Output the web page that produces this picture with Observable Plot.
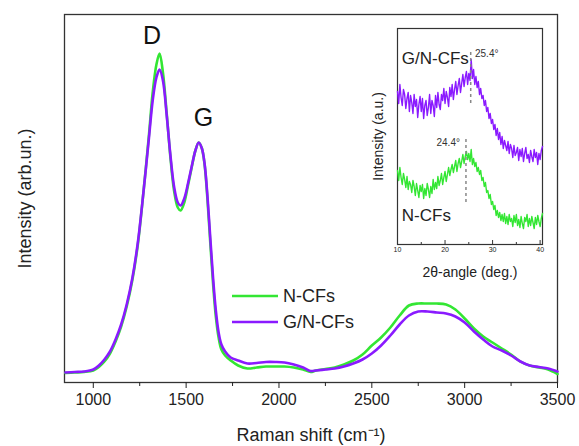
<!DOCTYPE html>
<html><head><meta charset="utf-8">
<script src="https://cdn.jsdelivr.net/npm/d3@7"></script>
<script src="https://cdn.jsdelivr.net/npm/@observablehq/plot@0.6"></script>
<style>
body{margin:0;background:#fff;font-family:"Liberation Sans",Arial,sans-serif;}
#wrap{position:relative;width:579px;height:446px;overflow:hidden;}
#wrap svg{position:absolute;overflow:visible;}
</style></head><body><div id="wrap"></div>
<script>
// ---- Main Raman spectra ----
const ramanShift = [850,900,950,1000,1030,1060,1090,1120,1150,1180,1210,1240,1270,1300,1320,1340,1357,1375,1395,1415,1435,1455,1470,1490,1510,1530,1550,1568,1585,1600,1615,1630,1645,1660,1675,1690,1710,1740,1780,1830,1880,1930,1980,2030,2080,2130,2170,2200,2250,2300,2350,2400,2450,2500,2550,2600,2650,2700,2750,2800,2850,2900,2950,3000,3050,3100,3150,3200,3250,3300,3350,3400,3450,3500];
const nCFs = [9.5,10,10.5,12,15.5,21,29,41,56,76,102,138,190,248,290,318,329,310,270,226,192,175,172,180,197,215,232,240,234,217,183,140,99,66,45,33,27,22,17,14,15,16,16,16,15,13,10.5,12,13.5,15,18,22,28,37,45,55,67,77,79,79,79,78,73,64,54,46,40,34,28,21,17,15,13,8.5];
const gnCFs = [10,10.5,11,13,17,23,31,43,58,78,104,140,190,245,282,305,313,302,268,228,196,180,177,184,199,216,232,240,234,218,186,145,105,72,50,38,31,25,22,19,19.5,20.5,20.5,20,18,15,11.5,12,13,14,16,19,23,29,37,47,58,67,71,71,70,69,66,60,51,43,36,32,27,21,17,15.5,14,11];
const sampleNames = ["N-CFs","G/N-CFs"];
const sampleColors = ["#33e633","#8a1aff"];
const xTicks = [1000,1500,2000,2500,3000,3500];
const xMinorTicks = [1250,1750,2250,2750,3250];
const peakLabels = ["D","G"];
const peakLabelShift = [1317,1593];
const peakLabelIntensity = [347,265];

// ---- Inset XRD ----
const xrdAngle = d3.range(10, 40.5001, 0.25);
const xrdGN = [
153,141,160,147, 139,155,150,136, 146,152,133,149, 142,131,150,138, 145,127,140,148,
133,146,126,139, 144,129,137,150, 131,144,139,128, 149,137,152,140, 135,150,144,156,
141,153,147,138, 157,148,160,145, 155,163,150,159, 166,152,161,170, 158,167,173,160,
171,164,185,166, 175,160,168,157, 163,150,156,146, 149,139,144,133, 137,126,131,121,
125,115,120,109, 116,105,112,100, 108,96,104,99, 94,103,91,100, 96,87,99,89,
92,97,84,95, 88,96,83,91, 97,86,90,82, 94,88,83,95, 87,92,80,91,
85,94,98];
const xrdN = [
74,64,77,67, 60,71,65,57, 68,55,63,60, 52,64,58,49, 61,54,47,59,
53,60,46,56, 49,61,55,47, 58,51,65,55, 62,56,68,59, 64,71,60,67,
73,63,70,77, 69,75,80,72, 78,84,73,81, 86,77,83,90, 81,88,93,85,
91,83,95,80, 86,78,82,73, 77,70,74,64, 67,58,62,52, 54,46,50,40,
43,35,39,29, 34,27,32,24, 30,23,31,21, 28,20,30,23, 26,18,29,22,
30,19,25,17, 28,21,16,27, 23,30,18,26, 19,28,22,16, 27,20,29,23,
18,26,31];
const insetTicks = [10,20,30,40];
const insetMinorTicks = [15,25,35];
const insetLabels = ["G/N-CFs","N-CFs"];
const insetLabelAngle = [10.9,10.9];
const insetLabelValue = [186,29];
const peakAngles = [25.4,24.4];
const peakAngleText = ["25.4°","24.4°"];
const peakTextAngle = [26.3,18.2];
const peakTextValue = [191,102];
const peakLineFrom = [141,42];
const peakLineTo = [194,106];

const font = '"Liberation Sans", Arial, sans-serif';
const ramanRows = [
  ...ramanShift.map((s,i)=>({shift:s, intensity:nCFs[i], sample:sampleNames[0]})),
  ...ramanShift.map((s,i)=>({shift:s, intensity:gnCFs[i], sample:sampleNames[1]}))
];

const main = Plot.plot({
  width:579, height:446, marginLeft:64, marginRight:22, marginTop:14, marginBottom:64,
  style:{fontFamily:font, background:"transparent", color:"#222"},
  x:{domain:[845,3500], axis:null},
  y:{domain:[0,368], axis:null},
  color:{domain:sampleNames, range:sampleColors},
  marks:[
    Plot.frame({stroke:"#333", strokeWidth:1.3}),
    Plot.axisX(xTicks, {tickSize:6, tickPadding:5, fontSize:16, tickFormat:d=>String(d), label:null}),
    Plot.axisX(xMinorTicks, {tickSize:4, tickFormat:()=>"", label:null}),
    Plot.text(["Raman shift (cm⁻¹)"], {frameAnchor:"bottom", dy:53, fontSize:18, lineAnchor:"middle", textAnchor:"middle"}),
    Plot.text(["Intensity (arb.un.)"], {frameAnchor:"left", rotate:-90, dx:-39, fontSize:18, lineAnchor:"middle", textAnchor:"middle"}),
    Plot.line(ramanRows, {x:"shift", y:"intensity", z:"sample", stroke:"sample", strokeWidth:2.6, curve:"catmull-rom"}),
    Plot.text(peakLabels, {x:(d,i)=>peakLabelShift[i], y:(d,i)=>peakLabelIntensity[i], text:d=>d, fontSize:25, fill:"#111"})
  ]
});
main.style.left = "0px"; main.style.top = "0px";

const xrdRows = [
  ...xrdAngle.map((a,i)=>({angle:a, value:xrdGN[i], sample:sampleNames[1]})).filter(d=>d.value!=null),
  ...xrdAngle.map((a,i)=>({angle:a, value:xrdN[i], sample:sampleNames[0]})).filter(d=>d.value!=null)
];

const inset = Plot.plot({
  width:200, height:265, marginLeft:37, marginRight:18, marginTop:8, marginBottom:41,
  style:{fontFamily:font, background:"transparent", color:"#222"},
  x:{domain:[10,40.5], axis:null},
  y:{domain:[0,216], axis:null},
  color:{domain:sampleNames, range:sampleColors},
  marks:[
    Plot.frame({stroke:"#333", strokeWidth:1.2}),
    Plot.axisX(insetTicks, {tickSize:0, tickPadding:3, fontSize:7, tickFormat:d=>String(d), label:null}),
    Plot.ruleX(insetTicks, {x:d=>d, insetTop:212, stroke:"#333"}),
    Plot.ruleX(insetMinorTicks, {x:d=>d, insetTop:214, stroke:"#333"}),
    Plot.line(xrdRows, {x:"angle", y:"value", z:"sample", stroke:"sample", strokeWidth:1.4}),
    Plot.ruleX(peakAngles, {x:d=>d, y1:(d,i)=>peakLineFrom[i], y2:(d,i)=>peakLineTo[i], stroke:"#888", strokeWidth:1.5, strokeDasharray:"3,3"}),
    Plot.text(peakAngleText, {x:(d,i)=>peakTextAngle[i], y:(d,i)=>peakTextValue[i], text:d=>d, textAnchor:"start", fontSize:10, fill:"#333"}),
    Plot.text(insetLabels, {x:(d,i)=>insetLabelAngle[i], y:(d,i)=>insetLabelValue[i], text:d=>d, textAnchor:"start", fontSize:17, fill:"#222"}),
    Plot.text(["2θ-angle (deg.)"], {frameAnchor:"bottom", dy:28, fontSize:14, lineAnchor:"middle", textAnchor:"middle"}),
    Plot.text(["Intensity (a.u.)"], {frameAnchor:"left", rotate:-90, dx:-19, fontSize:14, lineAnchor:"middle", textAnchor:"middle"})
  ]
});
inset.style.left = "360px"; inset.style.top = "20px";

// legend
const legend = d3.create("svg").attr("width",140).attr("height",56)
  .style("left","225px").style("top","280px");
sampleNames.forEach((name,i)=>{
  const g = legend.append("g").attr("transform",`translate(0,${16+i*26})`);
  g.append("line").attr("x1",7).attr("x2",53).attr("y1",0).attr("y2",0)
    .attr("stroke",sampleColors[i]).attr("stroke-width",2.6);
  g.append("text").attr("x",58).attr("y",0).attr("dy","0.35em")
    .attr("font-size",18).attr("font-family",font).attr("fill","#222").text(name);
});

const wrap = document.getElementById("wrap");
wrap.append(main, inset, legend.node());
</script></body></html>
